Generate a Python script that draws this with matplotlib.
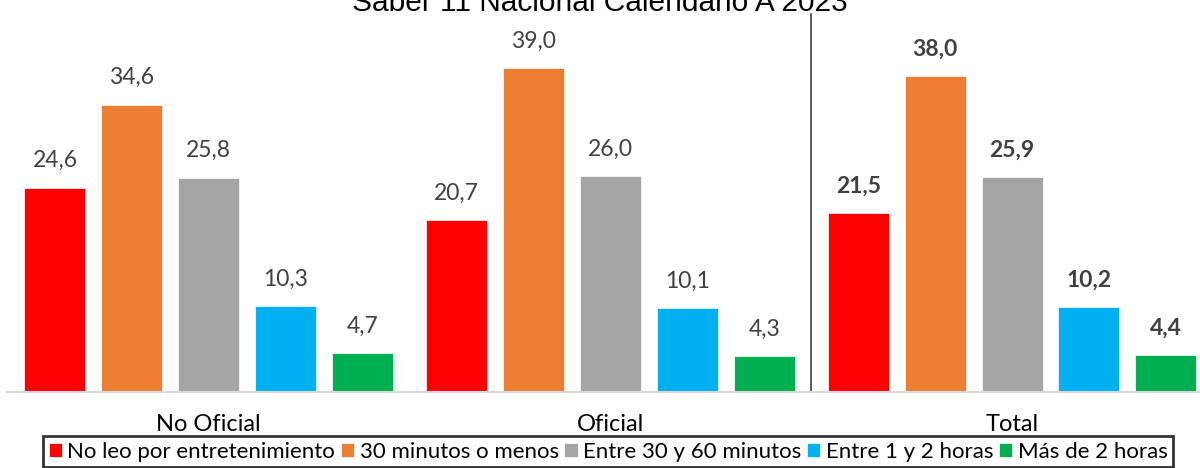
import matplotlib
matplotlib.use("Agg")
import matplotlib.pyplot as plt
import numpy as np

# data
groups = ["No Oficial", "Oficial", "Total"]
series = ["No leo por entretenimiento", "30 minutos o menos", "Entre 30 y 60 minutos",
          "Entre 1 y 2 horas", "Más de 2 horas"]
no_leo = [24.6, 20.7, 21.5]
min30 = [34.6, 39.0, 38.0]
min30_60 = [25.8, 26.0, 25.9]
h1_2 = [10.3, 10.1, 10.2]
h2_mas = [4.7, 4.3, 4.4]
title = "Saber 11 Nacional Calendario A 2023"

colors = ["#FF0000", "#ED7D31", "#A5A5A5", "#00B0F0", "#00B050"]
values = [no_leo, min30, min30_60, h1_2, h2_mas]

plt.rcParams["font.family"] = ["Lato", "DejaVu Sans"]

fig = plt.figure(figsize=(12, 4.68), dpi=100)
ax = fig.add_axes([7 / 1200, 76 / 468, 1 - 7 / 1200, 382 / 468])

x = np.arange(len(groups))
step = 77 / 402
width = 61 / 402
for i, (name, vals, c) in enumerate(zip(series, values, colors)):
    pos = x + (i - 2) * step
    ax.bar(pos, vals, width=width, color=c, label=name, edgecolor="white", linewidth=0.5)
    for j, (p, v) in enumerate(zip(pos, vals)):
        ax.text(p, v + 2.0, f"{v:.1f}".replace(".", ","), ha="center", va="bottom",
                fontsize=16.5, color="#404040",
                fontweight="bold" if groups[j] == "Total" else "normal")

ax.plot([1.5, 1.5], [0, 45.5], color="#404040", lw=1.2)

ax.set_xlim(-0.5025, 2.468)
ax.set_ylim(0, 46)
ax.set_yticks([])
ax.set_xticks(x)
ax.set_xticklabels(groups, fontsize=17)
ax.tick_params(axis="x", length=0, pad=16)
for s in ["top", "right", "left"]:
    ax.spines[s].set_visible(False)
ax.spines["bottom"].set_color("#D9D9D9")
ax.spines["bottom"].set_linewidth(1.5)

# title sits partly above the top edge, as in the original export
fig.text(600, 468 - 11, title, ha="center", va="baseline", fontsize=21.5,
         family="Liberation Sans", color="black", transform=None)

leg = fig.legend(loc="upper left", bbox_to_anchor=(43 / 1200, 1 - 436 / 468), ncol=5,
                 fontsize=16, frameon=True, fancybox=False, handlelength=0.6,
                 handleheight=0.6, handletextpad=0.25, columnspacing=0.25,
                 borderpad=0.25, borderaxespad=0)
leg.get_frame().set_edgecolor("black")
leg.get_frame().set_linewidth(2)

fig.savefig("out.png", dpi=100)
